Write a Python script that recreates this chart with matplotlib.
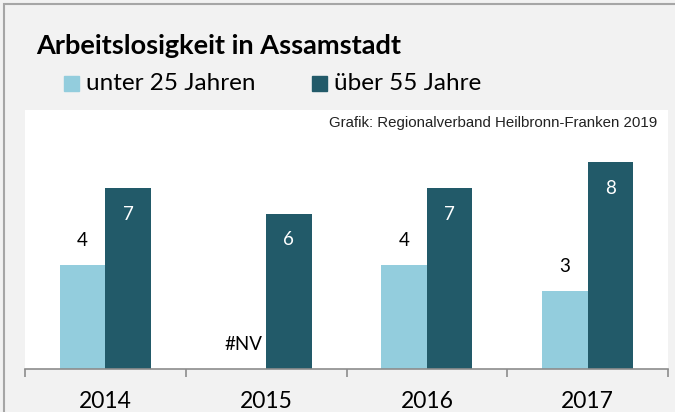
import matplotlib
matplotlib.use("Agg")
import matplotlib.pyplot as plt
import matplotlib.patches as m_patches

years = ["2014", "2015", "2016", "2017"]
under25 = [4, None, 4, 3]
over55 = [7, 6, 7, 8]
series_names = ["unter 25 Jahren", "über 55 Jahre"]
source = "Grafik: Regionalverband Heilbronn-Franken 2019"

light = "#93cddd"
dark = "#225a69"
bg = "#f2f2f2"
W, H = 675, 412

fig = plt.figure(figsize=(6.75, 4.12), dpi=100, facecolor=bg)
ax = fig.add_axes([25 / W, 43 / H, 643 / W, 259 / H])
ax.set_facecolor("white")

x = range(len(years))
bw = 0.283
u_vals = [v if v is not None else 0 for v in under25]
b1 = ax.bar([i - bw / 2 for i in x], u_vals, bw, color=light)
b2 = ax.bar([i + bw / 2 for i in x], over55, bw, color=dark)

for rect, v in zip(b1, under25):
    txt = "#NV" if v is None else str(v)
    ax.annotate(txt, (rect.get_x() + rect.get_width() / 2, rect.get_height()),
                xytext=(0, 18), textcoords="offset points", ha="center", va="center",
                fontsize=13.5, family="Lato", color="black")
for rect, v in zip(b2, over55):
    ax.annotate(str(v), (rect.get_x() + rect.get_width() / 2, rect.get_height()),
                xytext=(0, -19), textcoords="offset points", ha="center", va="center",
                fontsize=13.5, family="Lato", color="white")

ax.set_xlim(-0.5, len(years) - 0.5)
ax.set_ylim(0, 10)
ax.set_yticks([])
ax.set_xticks([i - 0.5 for i in range(len(years) + 1)])
ax.set_xticklabels([])
ax.set_xticks(list(x), minor=True)
ax.set_xticklabels(years, minor=True, fontsize=16.5, family="Lato")
ax.tick_params(axis="x", which="major", length=6, width=1.2, color="#8c8c8c")
ax.tick_params(axis="x", which="minor", length=0, pad=16)
for s in ["top", "left", "right"]:
    ax.spines[s].set_visible(False)
ax.spines["bottom"].set_color("#8c8c8c")
ax.spines["bottom"].set_linewidth(1.2)

# title, legend, source
fig.text(36 / W, 1 - 46 / H, "Arbeitslosigkeit in Assamstadt", fontsize=19.5,
         fontweight="bold", family="Lato", va="center", ha="left")
for px, col, name in [(64, light, series_names[0]), (312, dark, series_names[1])]:
    fig.patches.append(m_patches.Rectangle((px / W, 1 - 91 / H), 15 / W, 15 / H,
                                           transform=fig.transFigure, color=col))
    fig.text((px + 22) / W, 1 - 83 / H, name, fontsize=17.5, family="Lato",
             va="center", ha="left")
fig.text(657 / W, 1 - 123 / H, source, fontsize=10.8, family="Liberation Sans",
         va="center", ha="right", color="#222222")

fig.patches.append(m_patches.Rectangle((4 / W, -0.1), 1.0, 1 - 4 / H + 0.1,
                                       transform=fig.transFigure, fill=False,
                                       edgecolor="#a6a6a6", lw=1.5))

fig.savefig("out.png", dpi=100, facecolor=bg)
